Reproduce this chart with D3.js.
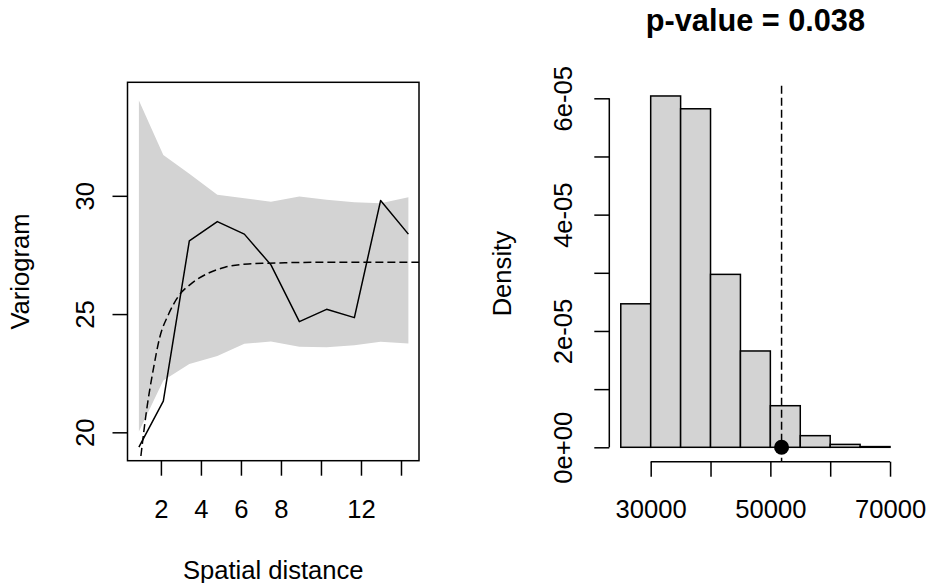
<!DOCTYPE html>
<html>
<head>
<meta charset="utf-8">
<script src="https://cdn.jsdelivr.net/npm/d3@7"></script>
<style>
  html, body { margin: 0; padding: 0; background: #fff; }
  svg { display: block; font-family: "Liberation Sans", Arial, sans-serif; }
</style>
</head>
<body>
<svg id="chart" width="928" height="583"></svg>
<script>
// ---- Left panel: empirical variogram with simulation envelope and fitted model ----
const lagDist      = [0.9, 2.12, 3.42, 4.82, 6.17, 7.5, 8.92, 10.28, 11.67, 12.98, 14.37];
const empVariogram = [19.37, 21.32, 28.09, 28.91, 28.38, 27.08, 24.68, 25.20, 24.85, 29.80, 28.38];
const envUpper     = [34.03, 31.73, 30.93, 30.04, 29.90, 29.75, 29.97, 29.83, 29.73, 29.69, 29.94];
const envLower     = [20.03, 22.19, 22.89, 23.23, 23.74, 23.84, 23.62, 23.60, 23.68, 23.83, 23.76];
const modelDist    = [1.0, 1.285, 1.615, 1.95, 2.365, 2.865, 3.535, 4.365, 5.2, 6.365, 7.365, 8.2, 10, 12, 14, 15.5];
const modelGamma   = [19.00, 20.94, 22.64, 24.04, 24.96, 25.74, 26.30, 26.73, 26.98, 27.12, 27.15, 27.17, 27.19, 27.19, 27.19, 27.19];
const distTicks    = [2, 4, 6, 8, 10, 12, 14];
const distLabels   = ["2", "4", "6", "8", "", "12", ""];
const gammaTicks   = [20, 25, 30];

// ---- Right panel: permutation distribution of the statistic ----
const binEdges  = [25000, 30000, 35000, 40000, 45000, 50000, 55000, 60000, 65000, 70000];
const density   = [2.467e-5, 6.04e-5, 5.82e-5, 2.973e-5, 1.656e-5, 0.715e-5, 0.20e-5, 0.05e-5, 0.012e-5];
const observed  = 51874;
const statTicks  = [30000, 40000, 50000, 60000, 70000];
const statLabels = ["30000", "", "50000", "", "70000"];
const densTicks  = [0, 1e-5, 2e-5, 3e-5, 4e-5, 5e-5, 6e-5];
const densLabels = ["0e+00", "", "2e-05", "", "4e-05", "", "6e-05"];
const titleText  = "p-value = 0.038";

const svg = d3.select("#chart");
svg.append("rect").attr("width", 928).attr("height", 583).attr("fill", "#fff");

const FONT = 25.6;
const GREY = "#d3d3d3";
const LW = 1.5;

// ================= Left panel =================
const L = { left: 127.5, right: 419, top: 82.3, bottom: 460.7 };
const xL = d3.scaleLinear().domain([0.33, 14.9]).range([L.left, L.right]);
const yL = d3.scaleLinear().domain([18.8, 34.8]).range([L.bottom, L.top]);

svg.append("clipPath").attr("id", "clipL")
  .append("rect").attr("x", L.left).attr("y", L.top)
  .attr("width", L.right - L.left).attr("height", L.bottom - L.top);

const gL = svg.append("g").attr("clip-path", "url(#clipL)");

// envelope band
const band = lagDist.map((d, i) => ({ x: d, lo: envLower[i], hi: envUpper[i] }));
gL.append("path")
  .datum(band)
  .attr("fill", GREY)
  .attr("stroke", "none")
  .attr("d", d3.area().x(d => xL(d.x)).y0(d => yL(d.lo)).y1(d => yL(d.hi)));

// empirical variogram
gL.append("path")
  .datum(lagDist.map((d, i) => [d, empVariogram[i]]))
  .attr("fill", "none").attr("stroke", "#000").attr("stroke-width", LW)
  .attr("stroke-linejoin", "round")
  .attr("d", d3.line().x(d => xL(d[0])).y(d => yL(d[1])));

// fitted model
gL.append("path")
  .datum(modelDist.map((d, i) => [d, modelGamma[i]]))
  .attr("fill", "none").attr("stroke", "#000").attr("stroke-width", LW)
  .attr("stroke-dasharray", "8,4")
  .attr("d", d3.line().curve(d3.curveMonotoneX).x(d => xL(d[0])).y(d => yL(d[1])));

// frame
svg.append("rect")
  .attr("x", L.left).attr("y", L.top)
  .attr("width", L.right - L.left).attr("height", L.bottom - L.top)
  .attr("fill", "none").attr("stroke", "#000").attr("stroke-width", LW);

// x axis
const axXL = svg.append("g").attr("transform", `translate(0,${L.bottom})`)
  .call(d3.axisBottom(xL).tickValues(distTicks).tickSize(15).tickSizeOuter(0)
    .tickFormat((d, i) => distLabels[i]));
axXL.select(".domain").remove();
axXL.selectAll("line").attr("stroke-width", LW);
axXL.selectAll("text").attr("font-size", FONT).attr("fill", "#000")
  .attr("font-family", null).attr("y", 57).attr("dy", 0);

// y axis
const axYL = svg.append("g").attr("transform", `translate(${L.left},0)`)
  .call(d3.axisLeft(yL).tickValues(gammaTicks).tickSize(15).tickSizeOuter(0));
axYL.select(".domain").remove();
axYL.selectAll("line").attr("stroke-width", LW);
axYL.selectAll("text").attr("font-size", FONT).attr("fill", "#000")
  .attr("font-family", null)
  .attr("x", 0).attr("dy", 0).attr("text-anchor", "middle")
  .attr("transform", "translate(-34,0) rotate(-90)");

svg.append("text")
  .attr("x", (L.left + L.right) / 2).attr("y", 579)
  .attr("text-anchor", "middle").attr("font-size", FONT)
  .text("Spatial distance");

svg.append("text")
  .attr("transform", `translate(29,${(L.top + L.bottom) / 2}) rotate(-90)`)
  .attr("text-anchor", "middle").attr("font-size", FONT)
  .text("Variogram");

// ================= Right panel =================
const R = { left: 610, right: 900.8, top: 85.7, bottom: 461.7 };
const xR = d3.scaleLinear().domain([23200, 71800]).range([R.left, R.right]);
const yR = d3.scaleLinear().domain([0, 6e-5]).range([447.3, 98.3]);

const bins = density.map((d, i) => ({ x0: binEdges[i], x1: binEdges[i + 1], d }));
svg.append("g").selectAll("rect")
  .data(bins).join("rect")
  .attr("x", b => xR(b.x0)).attr("y", b => yR(b.d))
  .attr("width", b => xR(b.x1) - xR(b.x0))
  .attr("height", b => yR(0) - yR(b.d))
  .attr("fill", GREY).attr("stroke", "#000").attr("stroke-width", LW);

// observed statistic
svg.append("line")
  .attr("x1", xR(observed)).attr("x2", xR(observed))
  .attr("y1", R.top).attr("y2", R.bottom)
  .attr("stroke", "#000").attr("stroke-width", LW).attr("stroke-dasharray", "8,4");
svg.append("circle")
  .attr("cx", xR(observed)).attr("cy", yR(0)).attr("r", 7.5).attr("fill", "#000");

// x axis
const axXR = svg.append("g").attr("transform", `translate(0,${R.bottom})`)
  .call(d3.axisBottom(xR).tickValues(statTicks).tickSize(15).tickSizeOuter(0)
    .tickFormat((d, i) => statLabels[i]));
axXR.select(".domain").attr("d", `M${xR(statTicks[0])},0H${xR(statTicks[statTicks.length - 1])}`)
  .attr("stroke-width", LW);
axXR.selectAll("line").attr("stroke-width", LW);
axXR.selectAll("text").attr("font-size", FONT).attr("fill", "#000")
  .attr("font-family", null).attr("y", 56).attr("dy", 0);

// y axis
const axYR = svg.append("g").attr("transform", `translate(${R.left - 0.7},0)`)
  .call(d3.axisLeft(yR).tickValues(densTicks).tickSize(15).tickSizeOuter(0)
    .tickFormat((d, i) => densLabels[i]));
axYR.select(".domain").attr("d", `M0,${yR(0)}V${yR(6e-5)}`).attr("stroke-width", LW);
axYR.selectAll("line").attr("stroke-width", LW);
axYR.selectAll("text").attr("font-size", FONT).attr("fill", "#000")
  .attr("font-family", null)
  .attr("x", 0).attr("dy", 0).attr("text-anchor", "middle")
  .attr("transform", "translate(-37.5,0) rotate(-90)");

svg.append("text")
  .attr("transform", `translate(511,${(R.top + R.bottom) / 2}) rotate(-90)`)
  .attr("text-anchor", "middle").attr("font-size", FONT)
  .text("Density");

svg.append("text")
  .attr("x", (R.left + R.right) / 2).attr("y", 31)
  .attr("text-anchor", "middle").attr("font-size", 30.7).attr("font-weight", "bold")
  .text(titleText);
</script>
</body>
</html>
